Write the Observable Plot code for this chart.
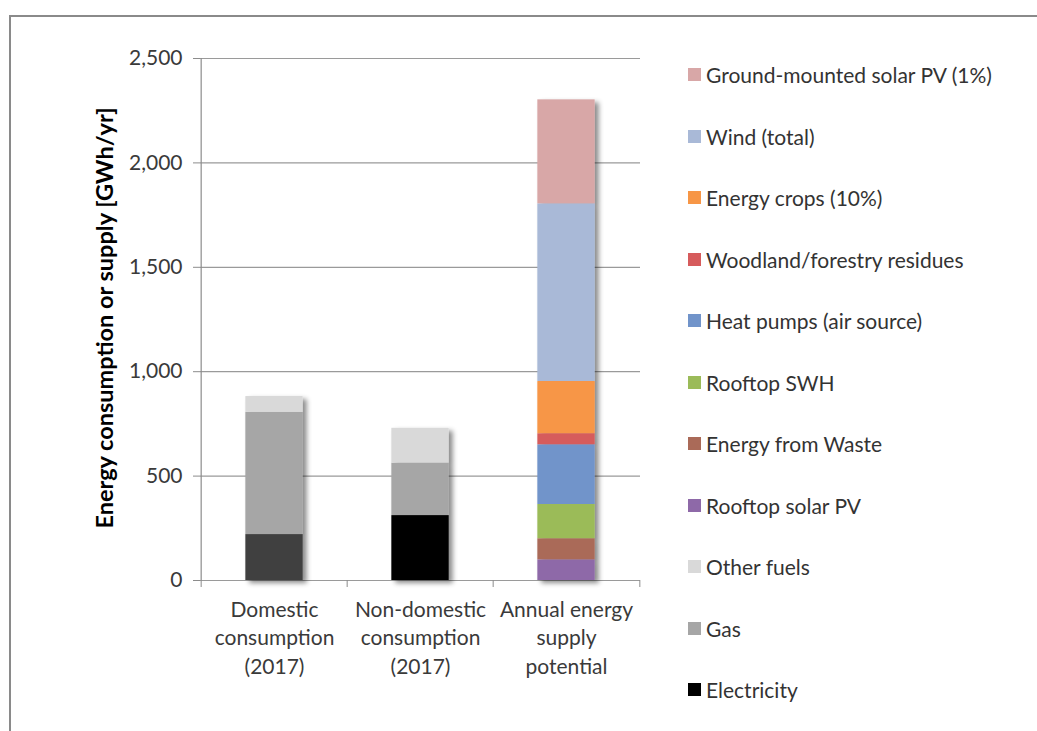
<!DOCTYPE html>
<html>
<head>
<meta charset="utf-8">
<script src="https://cdn.jsdelivr.net/npm/d3@7"></script>
<script src="https://cdn.jsdelivr.net/npm/@observablehq/plot@0.6"></script>
<style>
  html, body { margin: 0; padding: 0; background: #fff; }
  #wrap { position: relative; width: 1037px; height: 731px; overflow: hidden; font-family: Lato, sans-serif; }
  #frame { position: absolute; left: 9px; top: 15px; right: -10px; bottom: -10px; border-top: 2px solid #8a8a8a; border-left: 2px solid #8a8a8a; }
  #chart { position: absolute; left: 0; top: 0; }
  #legend { position: absolute; left: 688px; top: 44px; }
  .item { height: 61.5px; display: flex; align-items: center; font-size: 21px; color: #333; white-space: nowrap; }
  .sw { width: 13px; height: 13px; margin-right: 5px; flex: none; }
</style>
</head>
<body>
<div id="wrap">
  <div id="frame"></div>
  <div id="chart"></div>
  <div id="legend"></div>
</div>
<script>
// ---- data ----
const categories = ["Domestic consumption (2017)", "Non-domestic consumption (2017)", "Annual energy supply potential"];
const categoryLabels = ["Domestic\nconsumption\n(2017)", "Non-domestic\nconsumption\n(2017)", "Annual energy\nsupply\npotential"];
// stacking order, bottom to top
const sources = ["Electricity", "Gas", "Other fuels", "Rooftop solar PV", "Energy from Waste", "Rooftop SWH",
  "Heat pumps (air source)", "Woodland/forestry residues", "Energy crops (10%)", "Wind (total)", "Ground-mounted solar PV (1%)"];
const sourceColors = ["#000000", "#a6a6a6", "#d9d9d9", "#8e69a8", "#aa6a58", "#9bbb59",
  "#7194ca", "#d65b5c", "#f79646", "#a9b9d7", "#d8a7a7"];
const domesticValues    = [220, 585, 76, 0, 0, 0, 0, 0, 0, 0, 0];
const nonDomesticValues = [311, 251, 167, 0, 0, 0, 0, 0, 0, 0, 0];
const potentialValues   = [0, 0, 0, 99, 101, 164, 286, 53, 250, 851, 498];
const domesticElectricityColor = "#404040";
const yTicks = [0, 500, 1000, 1500, 2000, 2500];

// ---- build table ----
const seriesByCat = [domesticValues, nonDomesticValues, potentialValues];
const rows = [];
categories.forEach((c, ci) => {
  sources.forEach((s, si) => {
    const v = seriesByCat[ci][si];
    if (v > 0) {
      const fill = (ci === 0 && s === "Electricity") ? domesticElectricityColor : sourceColors[si];
      rows.push({category: c, source: s, value: v, fill});
    }
  });
});

const W = 660, H = 700, mL = 200, mR = 20, mT = 58, mB = 120;
const bw = (W - mL - mR) / categories.length;
const barW = 58;
const inset = (bw - barW) / 2;
const axisColor = "#8c8c8c";

const chart = Plot.plot({
  width: W, height: H,
  marginLeft: mL, marginRight: mR, marginTop: mT, marginBottom: mB,
  style: {fontFamily: "Lato, sans-serif", fontSize: "21px", color: "#3a3a3a", background: "transparent"},
  x: {domain: categories, padding: 0, label: null},
  y: {domain: [0, 2500], label: null},
  color: {type: "identity"},
  marks: [
    Plot.ruleY(yTicks, {stroke: "#9a9a9a", strokeWidth: 1.2}),
    Plot.ruleX([categories[0]], {dx: -bw / 2, stroke: axisColor, strokeWidth: 1.2}),
    Plot.axisY(yTicks, {tickSize: 7, tickPadding: 11, tickFormat: d3.format(","), stroke: axisColor, fill: "#3a3a3a", label: null}),
    Plot.axisX(categories, {tickSize: 7, tickFormat: () => "", dx: -bw / 2, stroke: axisColor, label: null}),
    Plot.axisX([categories[categories.length - 1]], {tickSize: 7, tickFormat: () => "", dx: bw / 2, stroke: axisColor, label: null}),
    Plot.axisX(categories, {tickSize: 0, tickPadding: 16, lineHeight: 1.36, fill: "#3a3a3a",
      tickFormat: (d) => categoryLabels[categories.indexOf(d)], label: null}),
    Plot.barY(rows, {x: "category", y: "value", fill: "fill", insetLeft: inset, insetRight: inset})
  ]
});

// drop shadow on bars
const ns = "http://www.w3.org/2000/svg";
const defs = document.createElementNS(ns, "defs");
defs.innerHTML = '<filter id="shadow" x="-20%" y="-5%" width="160%" height="115%"><feDropShadow dx="4" dy="3" stdDeviation="2.5" flood-color="#000" flood-opacity="0.45"/></filter>';
chart.insertBefore(defs, chart.firstChild);
const barG = chart.querySelector('g[aria-label="bar"]');
if (barG) barG.setAttribute("filter", "url(#shadow)");

// rotated y-axis title
const title = document.createElementNS(ns, "text");
title.setAttribute("transform", `translate(113,318) rotate(-90)`);
title.setAttribute("text-anchor", "middle");
title.setAttribute("font-weight", "bold");
title.setAttribute("font-size", "23.5px");
title.setAttribute("fill", "#000");
title.textContent = "Energy consumption or supply [GWh/yr]";
chart.appendChild(title);

document.getElementById("chart").appendChild(chart);

// legend (top to bottom = reverse stacking order)
const legend = document.getElementById("legend");
for (let i = sources.length - 1; i >= 0; i--) {
  const it = document.createElement("div");
  it.className = "item";
  it.innerHTML = `<span class="sw" style="background:${sourceColors[i]}"></span><span>${sources[i]}</span>`;
  legend.appendChild(it);
}
</script>
</body>
</html>
